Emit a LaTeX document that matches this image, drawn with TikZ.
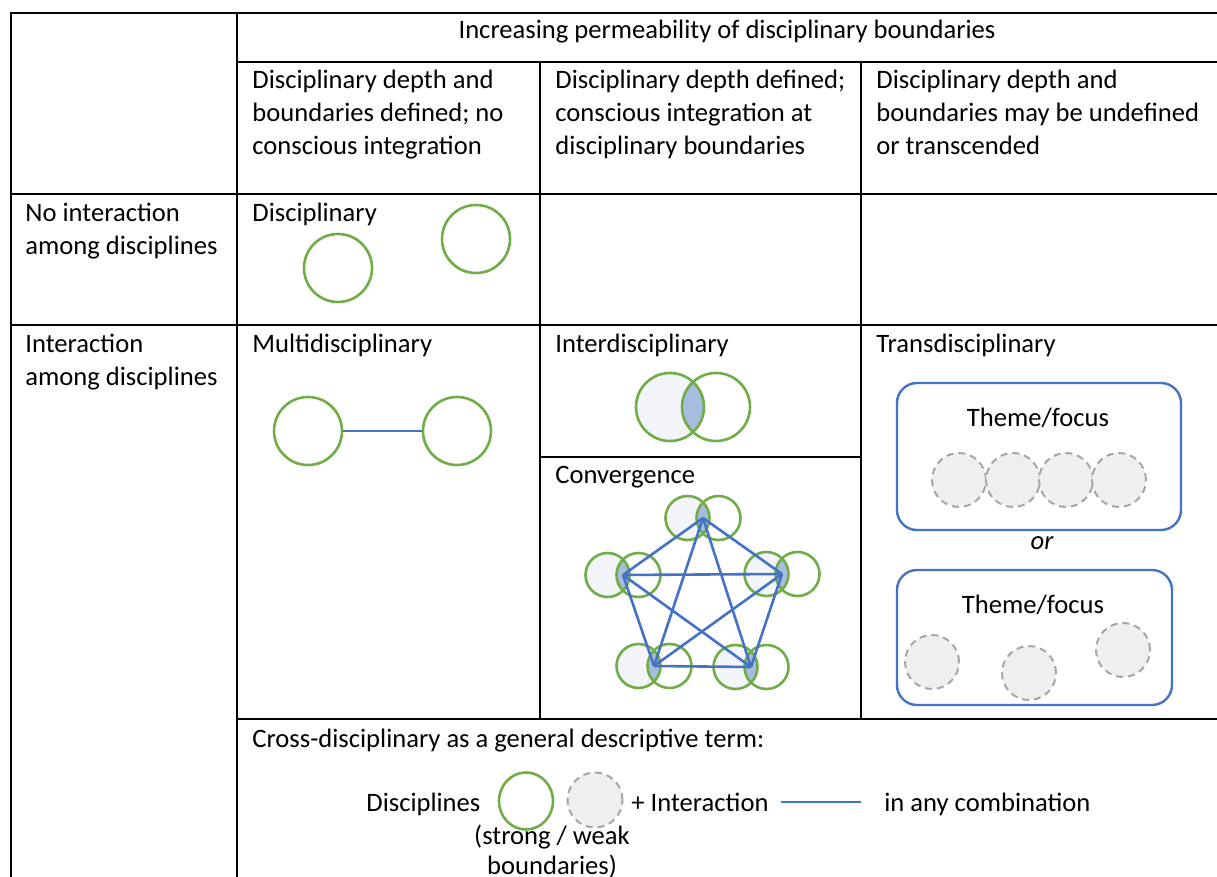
\documentclass[tikz,border=0pt]{standalone}
\usepackage{fontspec}
\setmainfont{Carlito}
\usetikzlibrary{positioning, shapes.geometric}

\definecolor{discgreen}{HTML}{70AD47}
\definecolor{linkblue}{HTML}{4472C4}
\definecolor{softfill}{HTML}{F3F5FA}
\definecolor{lensfill}{HTML}{A8BCE0}
\definecolor{weakgray}{HTML}{A6A6A6}
\definecolor{weakfill}{HTML}{EFEFEF}

\newcommand{\cellfont}{\fontsize{13.3pt}{16.5pt}\selectfont}

\tikzset{
  rule/.style={line width=1pt, black},
  celltext/.style={inner sep=0pt, font=\cellfont, align=left, anchor=north west},
  cellword/.style={inner sep=0pt, font=\cellfont, anchor=base west},
  disc/.style={circle, draw=discgreen, line width=1.3pt, minimum size=34pt, inner sep=0pt},
  smalldisc/.style={disc, minimum size=22pt},
  weakdisc/.style={circle, draw=weakgray, fill=weakfill, line width=1pt, dash pattern=on 3.5pt off 2.5pt, minimum size=27pt, inner sep=0pt},
  link/.style={draw=linkblue, line width=1.3pt},
  themebox/.style={rectangle, rounded corners=10pt, draw=linkblue, line width=1.2pt, inner sep=0pt},
}

\begin{document}
\begin{tikzpicture}[x=0.5pt, y=-0.5pt]
  \useasboundingbox (0,0) rectangle (1217,877);

  % table rules
  \draw[rule] (1217,13) -- (11,13) -- (11,877);
  \draw[rule] (237,13) -- (237,877);
  \draw[rule] (237,62) -- (1217,62);
  \draw[rule] (540,62) -- (540,719);
  \draw[rule] (861,62) -- (861,719);
  \draw[rule] (11,194) -- (1217,194);
  \draw[rule] (11,325) -- (1217,325);
  \draw[rule] (540,457) -- (861,457);
  \draw[rule] (237,719) -- (1217,719);

  % headers
  \node[cellword, anchor=base] (perm) at (727,39) {Increasing permeability of disciplinary boundaries};
  \node[celltext] (hd1) at (252,70) {Disciplinary depth and\\boundaries defined; no\\conscious integration};
  \node[celltext] (hd2) at (555,70) {Disciplinary depth defined;\\conscious integration at\\disciplinary boundaries};
  \node[celltext] (hd3) at (876,70) {Disciplinary depth and\\boundaries may be undefined\\or transcended};
  \node[celltext] (rw1) at (25,203) {No interaction\\among disciplines};
  \node[celltext] (rw2) at (25,334) {Interaction\\among disciplines};

  % no interaction
  \node[cellword] (tdis) at (252,222) {Disciplinary};
  \node[disc] (d1) at (338,268) {};
  \node[disc] (d2) at (476,239) {};

  % multidisciplinary
  \node[cellword] (tmul) at (252,353) {Multidisciplinary};
  \node[disc] (m1) at (308,431) {};
  \node[disc] (m2) at (457,431) {};
  \draw[link] (m1) -- (m2);

  % interdisciplinary
  \node[cellword] (tint) at (555,353) {Interdisciplinary};
  \fill[softfill] (670,407) circle[radius=17pt];
  \begin{scope}
    \clip (670,407) circle[radius=17pt];
    \fill[lensfill] (716,407) circle[radius=17pt];
  \end{scope}
  \node[disc] (i1) at (670,407) {};
  \node[disc] (i2) at (716,407) {};

  % convergence
  \node[cellword] (tcon) at (555,484) {Convergence};
  \foreach \v/\x/\y in {a/703/518, b/623/575, c/782/574, d/654/666, e/751/667} {
    \fill[softfill] (\x-15.5,\y) circle[radius=11pt];
    \begin{scope}
      \clip (\x-15.5,\y) circle[radius=11pt];
      \fill[lensfill] (\x+15.5,\y) circle[radius=11pt];
    \end{scope}
    \node[smalldisc] (\v1) at (\x-15.5,\y) {};
    \node[smalldisc] (\v2) at (\x+15.5,\y) {};
    \coordinate (\v) at (\x,\y);
  }
  \foreach \p/\q in {a/b, a/c, a/d, a/e, b/c, b/d, b/e, c/d, c/e, d/e}
    \draw[link] (\p) -- (\q);

  % transdisciplinary
  \node[cellword] (ttra) at (876,353) {Transdisciplinary};
  \node[themebox, minimum width=142pt, minimum height=73.5pt] (tb1) at (1039,456.5) {};
  \node[cellword, anchor=base] (tf1) at (1038,427) {Theme/focus};
  \foreach \i/\x in {1/959, 2/1013, 3/1066, 4/1119}
    \node[weakdisc] (w\i) at (\x,480) {};
  \node[cellword, anchor=base, font=\cellfont\itshape] (or) at (1042,549) {or};
  \node[themebox, minimum width=137.5pt, minimum height=67.5pt] (tb2) at (1034.5,637.5) {};
  \node[cellword, anchor=base] (tf2) at (1033,613) {Theme/focus};
  \node[weakdisc] (x1) at (932,662) {};
  \node[weakdisc] (x2) at (1029,673) {};
  \node[weakdisc] (x3) at (1123,650) {};

  % legend
  \node[cellword] (tcro) at (252,747) {Cross-disciplinary as a general descriptive term:};
  \node[cellword] (ldis) at (366,811) {Disciplines};
  \node[ellipse, draw=discgreen, line width=1.3pt, minimum width=27pt, minimum height=28.5pt, inner sep=0pt] (lstr) at (526,801) {};
  \node[weakdisc, minimum size=27.5pt] (lwea) at (595,800) {};
  \node[cellword] (lint) at (631,811) {+ Interaction};
  \coordinate (la) at (781,802);
  \coordinate (lb) at (861,802);
  \draw[link] (la) -- (lb);
  \node[cellword] (lany) at (884,811) {in any combination};
  \node[celltext, anchor=north, align=center, font=\fontsize{13.3pt}{15pt}\selectfont] (lbnd) at (552,825) {(strong / weak\\boundaries)};
\end{tikzpicture}
\end{document}
